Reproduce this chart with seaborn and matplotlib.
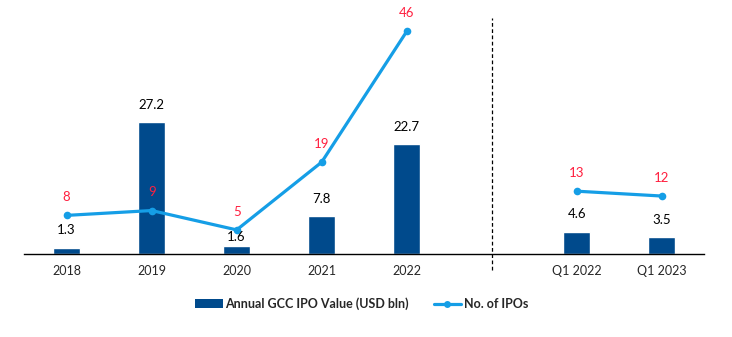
import numpy as np
import pandas as pd
import matplotlib
matplotlib.use("Agg")
import matplotlib.pyplot as plt
import seaborn as sns
from matplotlib.patches import Patch
from matplotlib.lines import Line2D

categories = ["2018", "2019", "2020", "2021", "2022", "", "Q1 2022", "Q1 2023"]
ipo_value = [1.3, 27.2, 1.6, 7.8, 22.7, np.nan, 4.6, 3.5]
ipo_count = [8, 9, 5, 19, 46, np.nan, 13, 12]
segment = [0, 0, 0, 0, 0, -1, 1, 1]

bar_color = "#004A8C"
line_color = "#159EE6"
count_label_color = "#FF1F3F"

sns.set_theme(style="white")
plt.rcParams["font.family"] = ["Lato", "DejaVu Sans"]

df = pd.DataFrame({"cat": categories, "value": ipo_value,
                   "count": ipo_count, "seg": segment,
                   "pos": np.arange(len(categories))})

fig = plt.figure(figsize=(7.32, 3.37), dpi=100)
ax = fig.add_axes([0.033, 0.246, 0.929, 0.718])

sns.barplot(data=df, x="cat", y="value", order=categories, color=bar_color,
            width=0.32, saturation=1, ax=ax)

line_df = df.dropna(subset=["count"])
sns.lineplot(data=line_df, x="pos", y="count", units="seg", estimator=None,
             color=line_color, linewidth=2.3, marker="o", markersize=5.5,
             markeredgewidth=0, ax=ax, legend=False)

for _, r in df.dropna(subset=["value"]).iterrows():
    off = 6.5 if r["cat"] == "2020" else 12.5
    ax.annotate(f"{r['value']:.1f}", (r["pos"], r["value"]), xytext=(0, off),
                textcoords="offset points", ha="center", va="center",
                fontsize=9.5, color="black", zorder=10)
for _, r in line_df.iterrows():
    ax.annotate(f"{int(r['count'])}", (r["pos"], r["count"]), xytext=(0, 13),
                textcoords="offset points", ha="center", va="center",
                fontsize=9.5, color=count_label_color, zorder=10)

ax.axvline(5, ymin=-0.066, ymax=0.975, color="black", linestyle=(0, (3, 2)),
           linewidth=0.9, clip_on=False)

ax.set_xlim(-0.5, 7.5)
ax.set_ylim(0, 50)
ax.set_xlabel("")
ax.set_ylabel("")
ax.set_yticks([])
ax.tick_params(axis="x", length=0, pad=8, labelsize=9)
for s in ["top", "right", "left"]:
    ax.spines[s].set_visible(False)
ax.spines["bottom"].set_color("black")
ax.spines["bottom"].set_linewidth(1.0)

handles = [Patch(facecolor=bar_color, edgecolor="none"),
           Line2D([0], [0], color=line_color, linewidth=2.3, marker="o",
                  markersize=5, markeredgewidth=0)]
leg = fig.legend(handles, ["Annual GCC IPO Value (USD bln)", "No. of IPOs"],
                 loc="center", bbox_to_anchor=(0.494, 0.098), ncol=2,
                 frameon=False, handlelength=2.2, handletextpad=0.2,
                 columnspacing=2.0, prop={"weight": "bold", "size": 9})

fig.savefig("out.png", dpi=100)
